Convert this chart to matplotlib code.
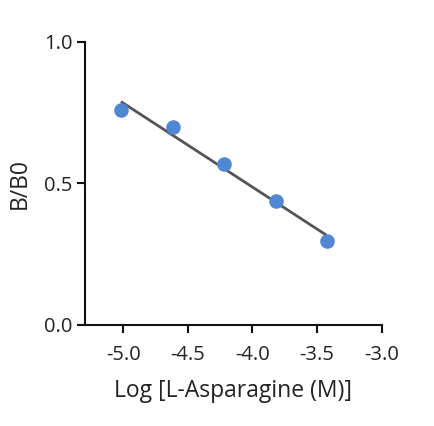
import numpy as np
import matplotlib
matplotlib.use("Agg")
import matplotlib.pyplot as plt

# Data
log_conc = [-5.018, -4.618, -4.221, -3.820, -3.426]
b_b0 = [0.758, 0.697, 0.568, 0.438, 0.296]
x_ticks = [-5.0, -4.5, -4.0, -3.5, -3.0]
y_ticks = [0.0, 0.5, 1.0]
x_label = "Log [L-Asparagine (M)]"
y_label = "B/B0"

plt.rcParams['font.family'] = ['Open Sans', 'DejaVu Sans']

fig = plt.figure(figsize=(4.35, 4.26), dpi=100)
ax = fig.add_axes([85/435, 1 - 324.5/426, (381.7 - 85)/435, (324.5 - 41.7)/426])

# linear fit line
slope, intercept = np.polyfit(log_conc, b_b0, 1)
fx = np.array([log_conc[0], log_conc[-1]])
ax.plot(fx, slope * fx + intercept, color='#555555', lw=2, zorder=2, solid_capstyle='butt')
ax.plot(log_conc, b_b0, 'o', color='#5087d3', markersize=10.5, markeredgewidth=0, zorder=3)

ax.set_xlim(-5.296, -3.0)
ax.set_ylim(0, 1.0)
ax.set_xticks(x_ticks)
ax.set_xticklabels([f"{t:.1f}" for t in x_ticks])
ax.set_yticks(y_ticks)
ax.set_yticklabels([f"{t:.1f}" for t in y_ticks])

for s in ['top', 'right']:
    ax.spines[s].set_visible(False)
for s in ['left', 'bottom']:
    ax.spines[s].set_linewidth(1.5)
    ax.spines[s].set_color('#111111')

ax.tick_params(axis='both', direction='out', length=6, width=1.5, color='#111111',
               labelsize=14.5, labelcolor='#222222')
ax.tick_params(axis='x', pad=9)
ax.tick_params(axis='y', pad=3)
ax.set_xlabel(x_label, fontsize=16.5, color='#222222', labelpad=10)
ax.set_ylabel(y_label, fontsize=16.5, color='#222222', labelpad=9)

fig.savefig("out.png", dpi=100)
